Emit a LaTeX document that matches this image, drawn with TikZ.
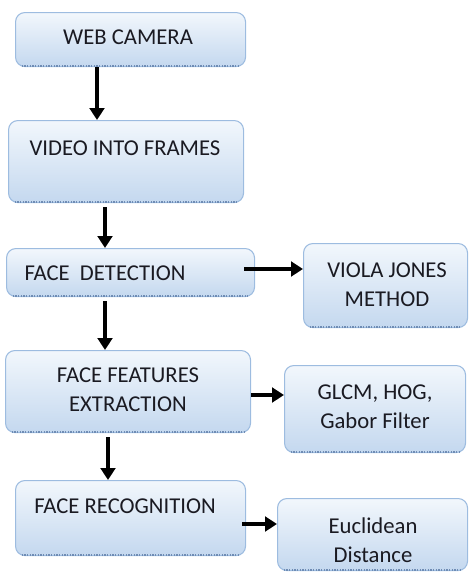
\documentclass[tikz,border=0pt]{standalone}
\usepackage{fontspec}
\setmainfont{Carlito}
\usetikzlibrary{arrows.meta}

\definecolor{boxline}{HTML}{9DBCE0}
\definecolor{boxtop}{HTML}{F2F7FC}
\definecolor{boxbot}{HTML}{C4D8EF}
\definecolor{boxshade}{HTML}{6F8CB4}
\definecolor{txt}{HTML}{1A1A22}

\tikzset{
  rbox/.style={draw=boxline, line width=0.8pt, rounded corners=7pt, top color=boxtop, bottom color=boxbot,
    anchor=north west, inner sep=0pt},
  lbl/.style={inner sep=0pt, align=center, text=txt, font=\fontsize{17}{22}\selectfont},
  arr/.style={line width=3pt, -{Triangle[length=9pt,width=11pt]}},
}

\begin{document}
\begin{tikzpicture}[x=0.75pt,y=0.75pt,yscale=-1,xscale=1]
\useasboundingbox (0,0) rectangle (469,572);

%Rounded Rect
\node[rbox, minimum width=172.5pt, minimum height=40.5pt] (web) at (15,12) {};
%Rounded Rect
\node[rbox, minimum width=176.25pt, minimum height=61.5pt] (vid) at (8,120) {};
%Rounded Rect
\node[rbox, minimum width=186pt, minimum height=36pt] (det) at (6,248) {};
%Rounded Rect
\node[rbox, minimum width=123pt, minimum height=63pt] (vj) at (303,243) {};
%Rounded Rect
\node[rbox, minimum width=183.75pt, minimum height=61.5pt] (feat) at (5,350) {};
%Rounded Rect
\node[rbox, minimum width=135.75pt, minimum height=65.25pt] (glcm) at (284,365) {};
%Rounded Rect
\node[rbox, minimum width=172.5pt, minimum height=56.25pt] (rec) at (15,480) {};
%Rounded Rect
\node[rbox, minimum width=142.5pt, minimum height=54pt] (euc) at (277,498) {};

%dotted shade under the boxes
\foreach \b in {web,vid,det,vj,feat,glcm,rec,euc}
  \draw[boxshade, densely dotted, line width=1pt] ([xshift=5pt,yshift=-0.8pt]\b.south west) -- ([xshift=-5pt,yshift=-0.8pt]\b.south east);

% Text Node
\node[lbl] (tweb) at (128,37) {WEB CAMERA};
% Text Node
\node[lbl] (tvid) at (125,148) {VIDEO INTO FRAMES};
% Text Node
\node[lbl] (tdet) at (105,273) {FACE\ \ DETECTION};
% Text Node
\node[lbl] (tvj) at (387,285) {VIOLA JONES\\METHOD};
% Text Node
\node[lbl] (tfeat) at (128,390) {FACE FEATURES\\EXTRACTION};
% Text Node
\node[lbl] (tglcm) at (375,407) {GLCM, HOG,\\Gabor Filter};
% Text Node
\node[lbl] (trec) at (125,506) {FACE RECOGNITION};
% Text Node
\node[lbl] (teuc) at (373,540) {Euclidean\\Distance};

%Straight Lines
\draw[arr] (web.south -| 97,0) -- (vid.north -| 97,0);
%Straight Lines
\draw[arr] ([yshift=3pt]vid.south -| 105,0) -- (det.north -| 105,0);
%Straight Lines
\draw[arr] ([yshift=3pt]det.south -| 105,0) -- (feat.north -| 105,0);
%Straight Lines
\draw[arr] ([yshift=3pt]feat.south -| 108,0) -- (rec.north -| 108,0);
%Straight Lines
\draw[arr] ([xshift=-8pt]det.east |- 0,269) -- (vj.west |- 0,269);
%Straight Lines
\draw[arr] (feat.east |- 0,395) -- (glcm.west |- 0,395);
%Straight Lines
\draw[arr] ([xshift=-3pt]rec.east |- 0,524) -- (euc.west |- 0,524);

\end{tikzpicture}
\end{document}
